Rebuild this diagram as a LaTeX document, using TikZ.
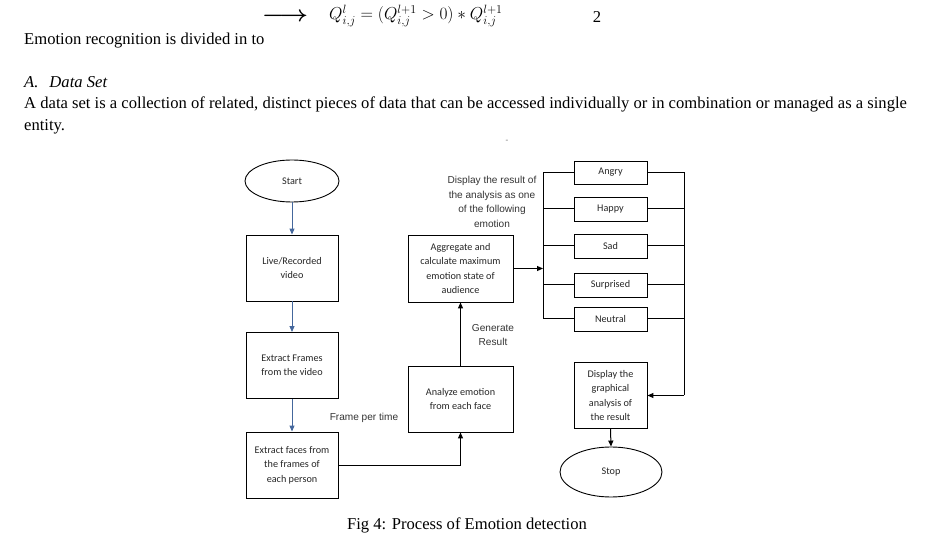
\documentclass[tikz,border=0pt]{standalone}
\usepackage{fontspec}
\setmainfont{Liberation Serif}
\newfontfamily\carl{Carlito}
\newfontfamily\arl{Liberation Sans}
\usetikzlibrary{shapes.geometric,arrows.meta}
\definecolor{blu}{RGB}{68,103,156}
\begin{document}
\begin{tikzpicture}[x=1pt,y=-1pt,
  box/.style={draw, line width=0.9pt, inner sep=0pt, align=center, text=black!85,
    font=\carl\fontsize{10.2}{14.5}\selectfont},
  oval/.style={box, ellipse},
  lbl/.style={inner sep=0pt, align=center, text=black!80, font=\arl\fontsize{10.1}{14.5}\selectfont},
  body/.style={inner sep=0pt, anchor=base west, font=\fontsize{16.6}{20}\selectfont},
  bluarr/.style={draw=blu, line width=1pt, -{Triangle[length=6pt,width=5pt]}},
  blkarr/.style={draw=black, line width=1pt, -{Triangle[length=6pt,width=5pt]}},
  ln/.style={draw=black, line width=1pt}]
\useasboundingbox (0,0) rectangle (927,537);
% --- text above ---
\node[inner sep=0pt] (arrtxt) at (285,17) {\scalebox{1.45}[1.3]{\fontsize{16}{18}\selectfont\boldmath$\longrightarrow$}};
\node[inner sep=0pt, anchor=west] (eq) at (329,16) {\fontsize{17}{20}\selectfont$Q^{l}_{i,j}=(Q^{l+1}_{i,j}>0)*Q^{l+1}_{i,j}$};
\node[inner sep=0pt] (eqn) at (597,17) {\fontsize{16.6}{20}\selectfont 2};
\node[body] (t1) at (24,45) {Emotion recognition is divided in to};
\node[body] (t2) at (24,88) {\textit{A.\hspace{11pt}Data Set}};
\node[body] (t3) at (24,109) {A data set is a collection of related, distinct pieces of data that can be accessed individually or in combination or managed as a single};
\node[body] (t4) at (24,131) {entity.};
\node[inner sep=0pt, text=black!60, font=\fontsize{8}{8}\selectfont] (dash) at (507,141) {-};
% --- flowchart ---
\node[oval, minimum width=94pt, minimum height=42pt] (start) at (292,181) {Start};
\node[box, minimum width=92pt, minimum height=66pt] (live) at (292,268) {Live/Recorded\\video};
\node[box, minimum width=92pt, minimum height=66pt] (frames) at (292,365.5) {Extract Frames\\from the video};
\node[box, minimum width=92pt, minimum height=66pt] (faces) at (292,465) {Extract faces from\\the frames of\\each person};
\node[box, minimum width=105pt, minimum height=66pt] (analyze) at (460.5,399) {Analyze emotion\\from each face};
\node[box, minimum width=105pt, minimum height=67pt] (aggr) at (460.5,268.5) {Aggregate and\\calculate maximum\\emotion state of\\audience};
\node[box, minimum width=73pt, minimum height=23pt] (angry) at (610.5,172.5) {Angry};
\node[box, minimum width=73pt, minimum height=24pt] (happy) at (610.5,209) {Happy};
\node[box, minimum width=73pt, minimum height=24pt] (sad) at (610.5,246) {Sad};
\node[box, minimum width=73pt, minimum height=24pt] (surp) at (610.5,285) {Surprised};
\node[box, minimum width=73pt, minimum height=24pt] (neut) at (610.5,319) {Neutral};
\node[box, minimum width=73pt, minimum height=66pt] (disp) at (610.5,395.5) {Display the\\graphical\\analysis of\\the result};
\node[oval, minimum width=102pt, minimum height=50pt] (stop) at (611,472) {Stop};
% labels
\node[lbl] (lres) at (492,202) {Display the result of\\the analysis as one\\of the following\\emotion};
\node[lbl] (lgen) at (493,335) {Generate\\Result};
\node[lbl] (lfpt) at (364,418) {Frame per time};
% bus coordinates
\coordinate (bt) at (543,172.5);
\coordinate (bb) at (543,319);
\coordinate (bm) at (543,268.5);
\coordinate (rt) at (684,172.5);
\coordinate (rb) at (684,395.5);
% connectors
\draw[bluarr] (start) -- (live);
\draw[bluarr] (live) -- (frames);
\draw[bluarr] (frames) -- (faces);
\draw[blkarr] (faces.east) -| (analyze.south);
\draw[blkarr] (analyze.north) -- (aggr.south);
\draw[blkarr] (aggr.east) -- (bm);
\draw[ln] (bt) -- (bb);
\draw[ln] (bt) -- (angry.west);
\draw[ln] (happy.west -| bt) -- (happy.west);
\draw[ln] (sad.west -| bt) -- (sad.west);
\draw[ln] (surp.west -| bt) -- (surp.west);
\draw[ln] (bb) -- (neut.west);
\draw[ln] (angry.east) -- (rt) -- (rb);
\draw[ln] (happy.east) -- (happy.east -| rt);
\draw[ln] (sad.east) -- (sad.east -| rt);
\draw[ln] (surp.east) -- (surp.east -| rt);
\draw[ln] (neut.east) -- (neut.east -| rt);
\draw[blkarr] (rb) -- (disp.east);
\draw[blkarr] (disp.south) -- (stop.north);
% caption
\node[inner sep=0pt, anchor=base] (cap) at (467,529) {\fontsize{16.6}{20}\selectfont Fig 4: Process of Emotion detection};
\end{tikzpicture}
\end{document}
